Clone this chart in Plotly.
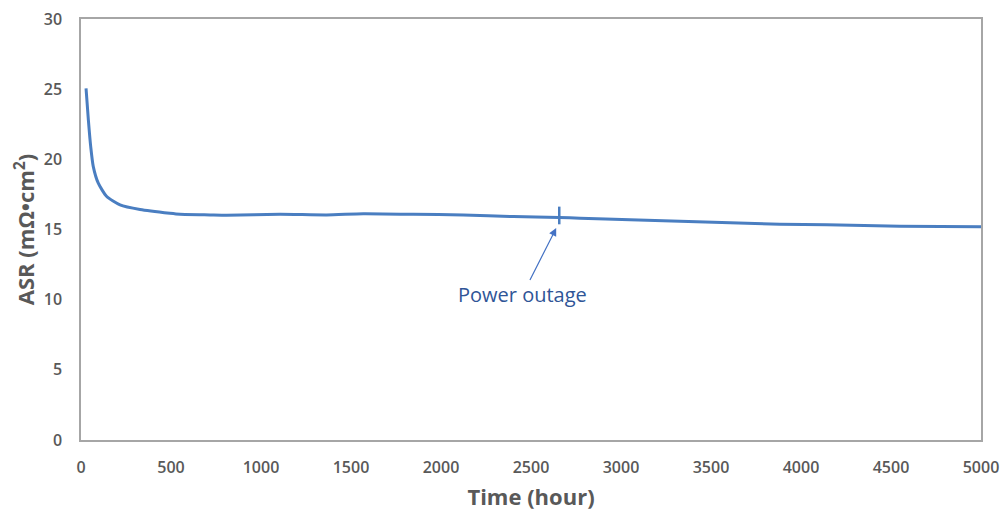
import plotly.graph_objects as go

# Data
hours = [28, 41, 54, 68, 96, 143, 217, 328, 494, 550, 717, 809, 1106, 1365,
         1568, 1846, 2124, 2402, 2657, 2772, 3050, 3328, 3606, 3883, 4143,
         4550, 5000]
asr = [25.05, 22.8, 20.9, 19.5, 18.3, 17.35, 16.75, 16.42, 16.15, 16.08,
       16.04, 16.02, 16.08, 16.04, 16.12, 16.08, 16.04, 15.92, 15.86, 15.8,
       15.7, 15.58, 15.48, 15.38, 15.33, 15.24, 15.2]

outage_hour = 2657
outage_low = 15.37
outage_high = 16.63
outage_label = "Power outage"
arrow_head = (2640, 15.1)
label_pos = (2455, 10.4)

x_ticks = [0, 500, 1000, 1500, 2000, 2500, 3000, 3500, 4000, 4500, 5000]
y_ticks = [0, 5, 10, 15, 20, 25, 30]

line_color = "rgb(74,126,193)"
gray = "#595959"

fig = go.Figure()
fig.add_trace(go.Scatter(x=hours, y=asr, mode="lines",
                         line=dict(color=line_color, width=3, shape="spline", smoothing=0.6),
                         showlegend=False, hoverinfo="skip"))
fig.add_trace(go.Scatter(x=[outage_hour, outage_hour], y=[outage_low, outage_high],
                         mode="lines", line=dict(color=line_color, width=2.5),
                         showlegend=False, hoverinfo="skip"))

fig.add_annotation(x=arrow_head[0], y=arrow_head[1], ax=label_pos[0], ay=label_pos[1],
                   xref="x", yref="y", axref="x", ayref="y", text=outage_label,
                   showarrow=True, arrowhead=2, arrowsize=1.3, arrowwidth=1.2,
                   arrowcolor="rgb(68,114,196)", borderpad=0,
                   font=dict(family="Open Sans", size=20, color="#2F5597"))

axis_common = dict(showline=True, linecolor="#a6a6a6", linewidth=1.5, mirror=True,
                   showgrid=False, zeroline=False, ticks="", automargin=False,
                   tickfont=dict(family="Open Sans", size=16, color=gray, weight=600))

fig.update_xaxes(range=[0, 5000], tickvals=x_ticks, ticklabelstandoff=12, **axis_common,
                 title=dict(text="Time (hour)", standoff=13,
                            font=dict(family="Open Sans", size=22, color=gray, weight="bold")))
fig.update_yaxes(range=[0, 30], tickvals=y_ticks, ticklabelstandoff=14, **axis_common,
                 title=dict(text="ASR (mΩ•cm<sup>2</sup>)", standoff=3,
                            font=dict(family="Open Sans", size=22, color=gray, weight="bold")))

fig.update_layout(width=1003, height=512, margin=dict(l=81, r=22, t=19, b=72),
                  plot_bgcolor="white", paper_bgcolor="white")

fig.write_html("out.html")
